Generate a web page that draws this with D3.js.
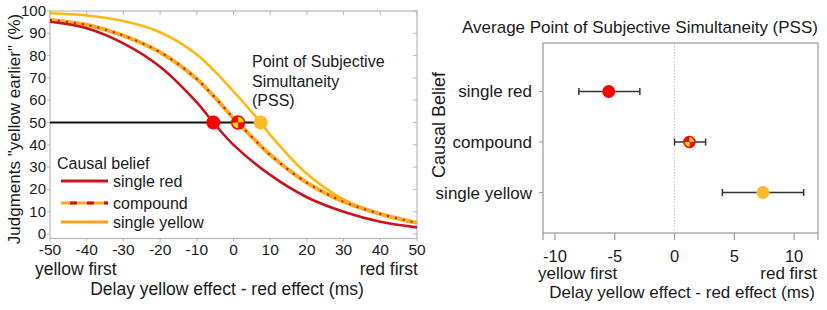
<!DOCTYPE html>
<html>
<head>
<meta charset="utf-8">
<script src="https://cdn.jsdelivr.net/npm/d3@7"></script>
<style>
  body { margin: 0; background: #fff; }
  svg { font-family: Arial, 'Liberation Sans', sans-serif; }
</style>
</head>
<body>
<svg id="chart" width="827" height="310"></svg>
<script>
// psychometric curves
const delays = [-50, -40, -30, -20, -10, 0, 10, 20, 30, 40, 50]
const singleRedPct = [95.2, 92.3, 85.5, 75, 59, 40, 26.5, 16.5, 10, 5.5, 3]
const compoundPct = [96, 93.8, 89, 81.5, 69.5, 52, 35.5, 23, 14.5, 9, 5]
const singleYellowPct = [99, 98, 95.5, 90.5, 80.5, 64, 44.5, 27, 15.5, 9, 4.8]

const leftXTicks = [-50, -40, -30, -20, -10, 0, 10, 20, 30, 40, 50]
const leftYTicks = [0, 10, 20, 30, 40, 50, 60, 70, 80, 90, 100]

// average PSS with error bars
const categories = ['single red', 'compound', 'single yellow']
const pssMean = [-5.5, 1.25, 7.4]
const pssLow = [-8.0, 0.0, 4.0]
const pssHigh = [-2.9, 2.6, 10.8]
const rightXTicks = [-10, -5, 0, 5, 10]

const RED_LINE = '#c8141c'
const YELLOW_LINE = '#fdb813'
const YELLOW_LEGEND = '#f8a01c'
const COMPOUND_LINE = '#f7ac1e'
const RED_DOT = '#ff0000'
const YELLOW_DOT = '#fbbb2a'
const QUARTER_YELLOW = '#ffe400'
const FRAME = '#b8b8b8'
const TEXT = '#1a1a1a'

const svg = d3.select('#chart')

// ---------- left panel ----------
const x = d3.scaleLinear().domain([-50, 50]).range([50, 417])
const y = d3.scaleLinear().domain([-2, 100]).range([238.5, 11])

const left = svg.append('g')

left.append('rect')
  .attr('x', x(-50)).attr('y', y(100))
  .attr('width', x(50) - x(-50)).attr('height', y(-2) - y(100))
  .attr('fill', 'none').attr('stroke', FRAME).attr('stroke-width', 1.2)

// inner ticks on top and right
leftXTicks.forEach((t) => {
  left.append('line')
    .attr('x1', x(t)).attr('x2', x(t))
    .attr('y1', y(100)).attr('y2', y(100) + 4)
    .attr('stroke', FRAME)
  left.append('line')
    .attr('x1', x(t)).attr('x2', x(t))
    .attr('y1', y(-2)).attr('y2', y(-2) + 3)
    .attr('stroke', FRAME)
  left.append('text')
    .attr('x', x(t)).attr('y', 255)
    .attr('text-anchor', 'middle')
    .attr('font-size', 15.5).attr('fill', TEXT)
    .text(t)
})
leftYTicks.forEach((t) => {
  left.append('line')
    .attr('x1', x(-50) - 3).attr('x2', x(-50))
    .attr('y1', y(t)).attr('y2', y(t))
    .attr('stroke', FRAME)
  left.append('line')
    .attr('x1', x(50) - 4).attr('x2', x(50))
    .attr('y1', y(t)).attr('y2', y(t))
    .attr('stroke', FRAME)
  left.append('text')
    .attr('x', 46).attr('y', y(t) + 5)
    .attr('text-anchor', 'end')
    .attr('font-size', 15).attr('fill', TEXT)
    .text(t)
})

// horizontal 50% line up to the last PSS
left.append('line')
  .attr('x1', x(-50)).attr('x2', x(d3.max(pssMean)))
  .attr('y1', y(50)).attr('y2', y(50))
  .attr('stroke', '#111').attr('stroke-width', 2)

function curvePoints(values, pss) {
  const pts = delays.map((d, i) => [d, values[i]])
  pts.push([pss, 50])
  return pts.sort((a, b) => a[0] - b[0])
}

const line = d3.line()
  .x((d) => x(d[0]))
  .y((d) => y(d[1]))
  .curve(d3.curveCatmullRom.alpha(0.5))

left.append('path')
  .attr('d', line(curvePoints(singleYellowPct, pssMean[2])))
  .attr('fill', 'none').attr('stroke', YELLOW_LINE).attr('stroke-width', 2.6)

left.append('path')
  .attr('d', line(curvePoints(compoundPct, pssMean[1])))
  .attr('fill', 'none').attr('stroke', COMPOUND_LINE).attr('stroke-width', 4)
left.append('path')
  .attr('d', line(curvePoints(compoundPct, pssMean[1])))
  .attr('fill', 'none').attr('stroke', RED_LINE).attr('stroke-width', 2)
  .attr('stroke-dasharray', '2,6')

left.append('path')
  .attr('d', line(curvePoints(singleRedPct, pssMean[0])))
  .attr('fill', 'none').attr('stroke', RED_LINE).attr('stroke-width', 2.6)

function quarterDot(g, cx, cy, r) {
  const arc = d3.arc().innerRadius(0).outerRadius(r)
  const colors = [QUARTER_YELLOW, RED_DOT, QUARTER_YELLOW, RED_DOT]
  colors.forEach((c, i) => {
    g.append('path')
      .attr('transform', `translate(${cx},${cy})`)
      .attr('d', arc({ startAngle: i * Math.PI / 2, endAngle: (i + 1) * Math.PI / 2 }))
      .attr('fill', c)
  })
  g.append('circle')
    .attr('cx', cx).attr('cy', cy).attr('r', r)
    .attr('fill', 'none').attr('stroke', RED_DOT).attr('stroke-width', 1.5)
}

left.append('circle')
  .attr('cx', x(pssMean[0])).attr('cy', y(50)).attr('r', 7)
  .attr('fill', RED_DOT)
quarterDot(left, x(pssMean[1]), y(50), 6.5)
left.append('circle')
  .attr('cx', x(pssMean[2])).attr('cy', y(50)).attr('r', 7)
  .attr('fill', YELLOW_DOT)

// PSS annotation
const pssText = ['Point of Subjective', 'Simultaneity', '(PSS)']
pssText.forEach((s, i) => {
  left.append('text')
    .attr('x', 252).attr('y', 67 + i * 19.5)
    .attr('font-size', 16).attr('fill', TEXT)
    .text(s)
})

// legend
left.append('text')
  .attr('x', 57).attr('y', 169)
  .attr('font-size', 16).attr('fill', TEXT)
  .text('Causal belief')
const legendY = [181, 203, 222]
left.append('line')
  .attr('x1', 61).attr('x2', 108).attr('y1', legendY[0]).attr('y2', legendY[0])
  .attr('stroke', RED_LINE).attr('stroke-width', 3)
left.append('line')
  .attr('x1', 61).attr('x2', 108).attr('y1', legendY[1]).attr('y2', legendY[1])
  .attr('stroke', COMPOUND_LINE).attr('stroke-width', 3)
left.append('line')
  .attr('x1', 61).attr('x2', 108).attr('y1', legendY[1]).attr('y2', legendY[1])
  .attr('stroke', RED_LINE).attr('stroke-width', 3)
  .attr('stroke-dasharray', '0,9,7,10,7,10,7')
left.append('line')
  .attr('x1', 61).attr('x2', 108).attr('y1', legendY[2]).attr('y2', legendY[2])
  .attr('stroke', YELLOW_LEGEND).attr('stroke-width', 3)
categories.forEach((c, i) => {
  left.append('text')
    .attr('x', 113).attr('y', legendY[i] + 6)
    .attr('font-size', 16).attr('fill', TEXT)
    .text(c)
})

// axis titles
left.append('text')
  .attr('transform', 'translate(20,129) rotate(-90)')
  .attr('text-anchor', 'middle')
  .attr('font-size', 17).attr('fill', TEXT)
  .text('Judgments "yellow earlier" (%)')
left.append('text')
  .attr('x', 35).attr('y', 275)
  .attr('font-size', 17.5).attr('fill', TEXT)
  .text('yellow first')
left.append('text')
  .attr('x', 418).attr('y', 275)
  .attr('text-anchor', 'end')
  .attr('font-size', 17.5).attr('fill', TEXT)
  .text('red first')
left.append('text')
  .attr('x', 227).attr('y', 295)
  .attr('text-anchor', 'middle')
  .attr('font-size', 17.5).attr('fill', TEXT)
  .text('Delay yellow effect - red effect (ms)')

// ---------- right panel ----------
const xr = d3.scaleLinear().domain([-11, 12]).range([543, 818])
const yr = d3.scalePoint().domain(categories).range([46, 238]).padding(0.9)
const plotTop = 43, plotBottom = 233

const right = svg.append('g')

right.append('text')
  .attr('x', 640).attr('y', 33)
  .attr('text-anchor', 'middle')
  .attr('font-size', 17).attr('fill', TEXT)
  .text('Average Point of Subjective Simultaneity (PSS)')

right.append('rect')
  .attr('x', xr(-11)).attr('y', plotTop)
  .attr('width', xr(12) - xr(-11)).attr('height', plotBottom - plotTop)
  .attr('fill', 'none').attr('stroke', '#9a9a9a').attr('stroke-width', 1.2)

right.append('line')
  .attr('x1', xr(0)).attr('x2', xr(0)).attr('y1', plotTop).attr('y2', plotBottom)
  .attr('stroke', '#c4c4c4').attr('stroke-width', 1)
  .attr('stroke-dasharray', '1.5,1.5')

const bottomTicks = [-11].concat(rightXTicks, [12])
bottomTicks.forEach((t) => {
  right.append('line')
    .attr('x1', xr(t)).attr('x2', xr(t)).attr('y1', plotBottom).attr('y2', plotBottom + 7)
    .attr('stroke', '#9a9a9a').attr('stroke-width', 1.2)
})
rightXTicks.forEach((t) => {
  right.append('text')
    .attr('x', xr(t)).attr('y', 262)
    .attr('text-anchor', 'middle')
    .attr('font-size', 16.5).attr('fill', TEXT)
    .text(t)
})

categories.forEach((c, i) => {
  const cy = yr(c)
  right.append('line')
    .attr('x1', xr(-11) - 4).attr('x2', xr(-11)).attr('y1', cy).attr('y2', cy)
    .attr('stroke', '#9a9a9a')
  right.append('text')
    .attr('x', 532).attr('y', cy + 6)
    .attr('text-anchor', 'end')
    .attr('font-size', 17).attr('fill', TEXT)
    .text(c)

  right.append('line')
    .attr('x1', xr(pssLow[i])).attr('x2', xr(pssHigh[i])).attr('y1', cy).attr('y2', cy)
    .attr('stroke', '#333').attr('stroke-width', 1.5)
  ;[pssLow[i], pssHigh[i]].forEach((v) => {
    right.append('line')
      .attr('x1', xr(v)).attr('x2', xr(v)).attr('y1', cy - 3.5).attr('y2', cy + 3.5)
      .attr('stroke', '#333').attr('stroke-width', 1.5)
  })
})

right.append('circle')
  .attr('cx', xr(pssMean[0])).attr('cy', yr(categories[0])).attr('r', 6.5)
  .attr('fill', RED_DOT)
quarterDot(right, xr(pssMean[1]), yr(categories[1]), 5.5)
right.append('circle')
  .attr('cx', xr(pssMean[2])).attr('cy', yr(categories[2])).attr('r', 6.5)
  .attr('fill', YELLOW_DOT)

right.append('text')
  .attr('transform', 'translate(445,125) rotate(-90)')
  .attr('text-anchor', 'middle')
  .attr('font-size', 18).attr('fill', TEXT)
  .text('Causal Belief')
right.append('text')
  .attr('x', 538).attr('y', 279)
  .attr('font-size', 17).attr('fill', TEXT)
  .text('yellow first')
right.append('text')
  .attr('x', 817).attr('y', 279)
  .attr('text-anchor', 'end')
  .attr('font-size', 17).attr('fill', TEXT)
  .text('red first')
right.append('text')
  .attr('x', 815).attr('y', 298)
  .attr('text-anchor', 'end')
  .attr('font-size', 17).attr('fill', TEXT)
  .text('Delay yellow effect - red effect (ms)')
</script>
</body>
</html>
